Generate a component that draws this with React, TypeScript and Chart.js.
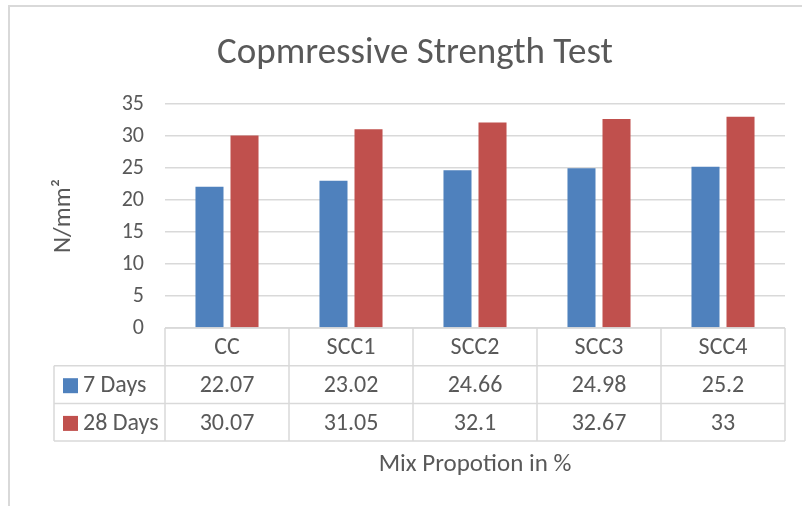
import { useEffect, useRef } from "react";
import { Chart, registerables } from "chart.js";

Chart.register(...registerables);

const categories = ["CC", "SCC1", "SCC2", "SCC3", "SCC4"];
const days7 = [22.07, 23.02, 24.66, 24.98, 25.2];
const days28 = [30.07, 31.05, 32.1, 32.67, 33];
const seriesNames = ["7 Days", "28 Days"];
const yMin = 0;
const yMax = 35;
const yStep = 5;
const chartTitle = "Copmressive Strength Test";
const yAxisTitle = "N/mm²";
const xAxisTitle = "Mix Propotion in %";

const COLORS = ["#4F81BD", "#C0504D"];
const TEXT = "#595959";
const LINE = "#D9D9D9";
const FONT = "Carlito, Calibri, Lato, sans-serif";

const tablePlugin = {
  id: "excelTable",
  afterDraw(chart: any) {
    const ctx = chart.ctx as CanvasRenderingContext2D;
    const area = chart.chartArea;
    const left = area.left;
    const right = area.right;
    const top = area.bottom;
    const n = categories.length;
    const colW = (right - left) / n;
    const rowH = 37.7;
    const legendLeft = 54;
    const series = [days7, days28];

    ctx.save();
    // outer chart border
    ctx.strokeStyle = LINE;
    ctx.lineWidth = 2;
    ctx.beginPath();
    ctx.moveTo(9, 506);
    ctx.lineTo(9, 6);
    ctx.lineTo(802, 6);
    ctx.stroke();

    // title
    ctx.fillStyle = TEXT;
    ctx.textAlign = "center";
    ctx.textBaseline = "alphabetic";
    ctx.font = `34px ${FONT}`;
    const w = ctx.measureText(chartTitle).width;
    const size = 34 * (396 / w);
    ctx.font = `${size.toFixed(1)}px ${FONT}`;
    ctx.fillText(chartTitle, 415, 63);

    // table grid
    ctx.strokeStyle = LINE;
    ctx.lineWidth = 1.5;
    ctx.beginPath();
    ctx.moveTo(left, top);
    ctx.lineTo(right, top);
    for (let r = 1; r <= 3; r++) {
      ctx.moveTo(legendLeft, top + r * rowH);
      ctx.lineTo(right, top + r * rowH);
    }
    for (let c = 0; c <= n; c++) {
      const x = left + c * colW;
      ctx.moveTo(x, top);
      ctx.lineTo(x, top + 3 * rowH);
    }
    ctx.moveTo(legendLeft, top + rowH);
    ctx.lineTo(legendLeft, top + 3 * rowH);
    ctx.stroke();

    // header texts
    ctx.fillStyle = TEXT;
    ctx.textAlign = "center";
    ctx.textBaseline = "alphabetic";
    ctx.font = `24px ${FONT}`;
    categories.forEach((cat, i) => {
      const x = chart.scales.x.getPixelForValue(i);
      ctx.fillText(cat, x, top + 25.5);
    });
    // series rows
    series.forEach((vals, s) => {
      const rowTop = top + rowH * (s + 1);
      const base = rowTop + 26.5;
      vals.forEach((v, i) => {
        const x = chart.scales.x.getPixelForValue(i);
        ctx.fillText(String(v), x, base);
      });
      ctx.fillStyle = COLORS[s];
      ctx.fillRect(63, rowTop + 12.5, 15, 15);
      ctx.fillStyle = TEXT;
      ctx.textAlign = "left";
      ctx.fillText(seriesNames[s], 83, base);
      ctx.textAlign = "center";
    });

    // x axis title
    ctx.font = `25px ${FONT}`;
    ctx.fillText(xAxisTitle, (left + right) / 2, 471);

    // y axis title
    ctx.font = `25px ${FONT}`;
    ctx.translate(70, (area.top + area.bottom) / 2);
    ctx.rotate(-Math.PI / 2);
    ctx.fillText(yAxisTitle, 0, 0);
    ctx.restore();
  },
};

export default function App() {
  const ref = useRef<HTMLCanvasElement>(null);
  useEffect(() => {
    document.body.style.margin = "0";
    const canvas = ref.current!;
    const chart = new Chart(canvas, {
      type: "bar",
      data: {
        labels: categories,
        datasets: [
          {
            label: seriesNames[0],
            data: days7,
            backgroundColor: COLORS[0],
            categoryPercentage: 0.565,
            barPercentage: 0.8,
          },
          {
            label: seriesNames[1],
            data: days28,
            backgroundColor: COLORS[1],
            categoryPercentage: 0.565,
            barPercentage: 0.8,
          },
        ],
      },
      options: {
        animation: false,
        responsive: false,
        layout: { padding: { top: 104, bottom: 178, left: 0, right: 17 } },
        plugins: {
          legend: { display: false },
          title: { display: false },
          tooltip: { enabled: false },
        },
        scales: {
          x: { display: false },
          y: {
            min: yMin,
            max: yMax,
            ticks: {
              stepSize: yStep,
              color: TEXT,
              font: { family: FONT, size: 22 },
              padding: 21,
            },
            grid: { color: LINE, lineWidth: 1.5, drawTicks: false },
            border: { display: false },
            afterFit: (axis: any) => {
              axis.width = 165;
            },
          },
        },
      },
      plugins: [tablePlugin],
    });
    return () => chart.destroy();
  }, []);
  return <canvas ref={ref} width={802} height={506} style={{ display: "block" }} />;
}
